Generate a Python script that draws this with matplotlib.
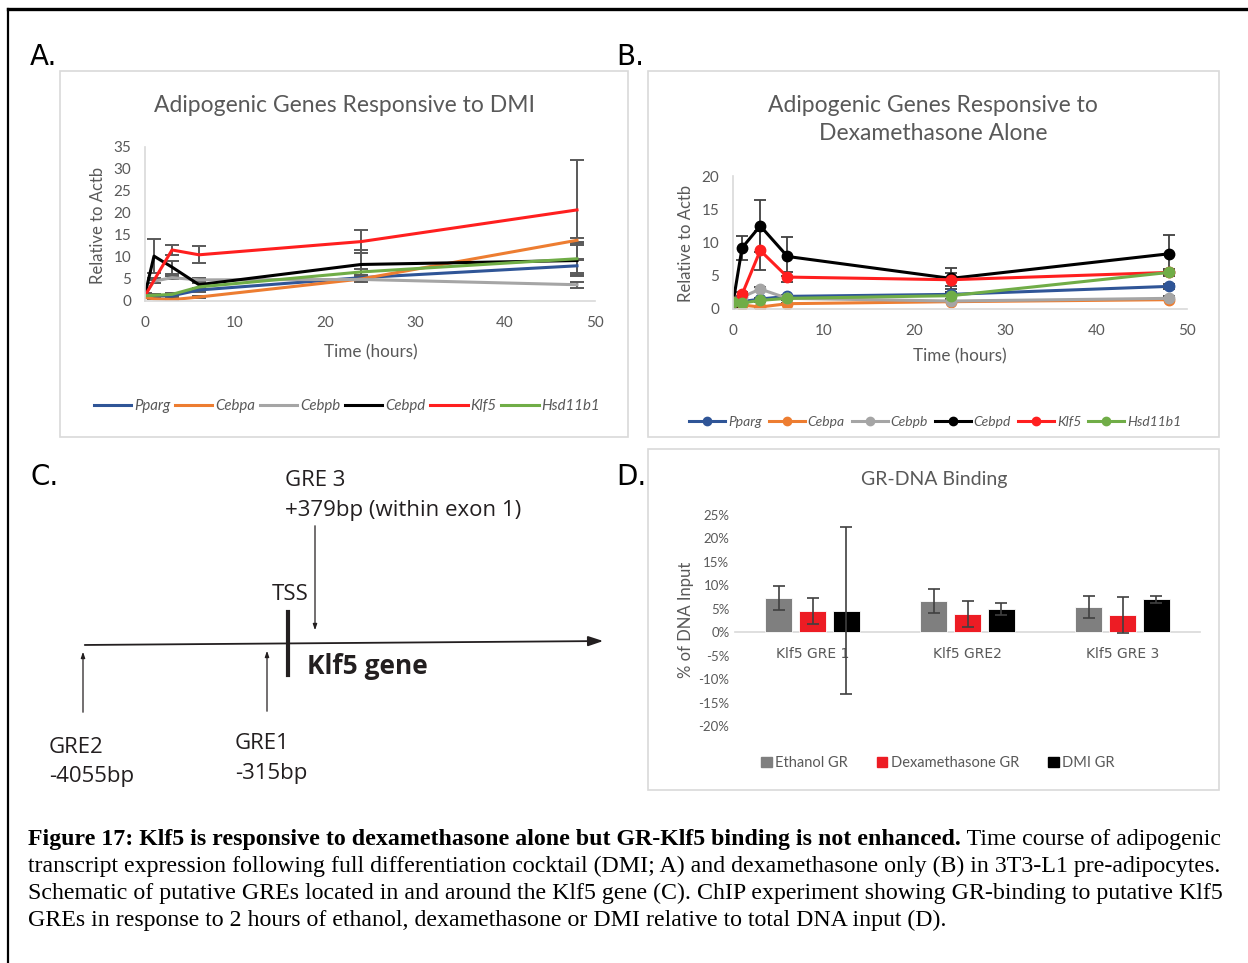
import matplotlib
matplotlib.use("Agg")
import matplotlib.pyplot as plt
from matplotlib.lines import Line2D
from matplotlib.patches import Rectangle, Patch
from matplotlib.ticker import PercentFormatter

plt.rcParams["axes.unicode_minus"] = False

# ---- data ----
times = [0, 1, 3, 6, 24, 48]
genes = ["Pparg", "Cebpa", "Cebpb", "Cebpd", "Klf5", "Hsd11b1"]
gene_colors = ["#2f5597", "#ed7d31", "#a5a5a5", "#000000", "#ff1f1f", "#70ad47"]

# A: full DMI cocktail
dmi_pparg = [1.0, 1.1, 1.2, 2.5, 5.3, 8.0]
dmi_cebpa = [0.8, 0.5, 0.3, 0.9, 5.0, 13.8]
dmi_cebpb = [1.5, 4.5, 5.3, 4.8, 4.9, 3.7]
dmi_cebpd = [1.5, 10.2, 7.7, 3.7, 8.3, 9.2]
dmi_klf5 = [1.2, 4.7, 11.6, 10.5, 13.5, 20.7]
dmi_hsd11b1 = [1.2, 1.3, 1.5, 3.2, 6.6, 9.6]
dmi_pparg_err = [0.2, 0.2, 0.3, 0.5, 0.6, 1.6]
dmi_cebpa_err = [0.1, 0.1, 0.1, 0.3, 0.6, 0.6]
dmi_cebpb_err = [0.1, 0.3, 0.4, 0.4, 0.4, 0.7]
dmi_cebpd_err = [0.3, 3.8, 1.5, 1.0, 3.2, 3.5]
dmi_klf5_err = [0.2, 0.5, 1.2, 1.9, 2.7, 11.3]
dmi_hsd11b1_err = [0.2, 0.2, 0.3, 0.8, 0.7, 3.7]

# B: dexamethasone alone
dex_pparg = [1.0, 1.1, 1.5, 1.9, 2.2, 3.4]
dex_cebpa = [1.0, 0.6, 0.3, 0.8, 1.1, 1.4]
dex_cebpb = [1.0, 1.8, 3.0, 1.6, 1.2, 1.6]
dex_cebpd = [0.9, 9.2, 12.5, 7.9, 4.6, 8.3]
dex_klf5 = [1.0, 2.2, 8.8, 4.8, 4.4, 5.5]
dex_hsd11b1 = [1.0, 0.9, 1.3, 1.6, 2.0, 5.5]
dex_pparg_err = [0.1, 0.1, 0.2, 0.2, 0.3, 0.4]
dex_cebpa_err = [0.1, 0.1, 0.1, 0.1, 0.1, 0.1]
dex_cebpb_err = [0.1, 0.2, 0.3, 0.2, 0.2, 0.3]
dex_cebpd_err = [0.2, 1.8, 3.9, 2.9, 1.6, 2.8]
dex_klf5_err = [0.1, 0.4, 3.0, 0.8, 1.0, 0.4]
dex_hsd11b1_err = [0.1, 0.1, 0.2, 0.2, 0.5, 0.5]

# D: ChIP, % of input
sites = ["Klf5 GRE 1", "Klf5 GRE2", "Klf5 GRE 3"]
treatments = ["Ethanol GR", "Dexamethasone GR", "DMI GR"]
treat_colors = ["#7f7f7f", "#ed1c24", "#000000"]
ethanol_gr = [7.3, 6.7, 5.4]
ethanol_gr_err = [2.5, 2.5, 2.3]
dex_gr = [4.6, 3.9, 3.7]
dex_gr_err = [2.8, 2.7, 3.9]
dmi_gr = [4.6, 4.9, 7.0]
dmi_gr_err = [17.8, 1.3, 0.8]

caption_bold = "Figure 17: Klf5 is responsive to dexamethasone alone but GR-Klf5 binding is not enhanced."
caption_lines = [
    " Time course of adipogenic",
    "transcript expression following full differentiation cocktail (DMI; A) and dexamethasone only (B) in 3T3-L1 pre-adipocytes.",
    "Schematic of putative GREs located in and around the Klf5 gene (C). ChIP experiment showing GR-binding to putative Klf5",
    "GREs in response to 2 hours of ethanol, dexamethasone or DMI relative to total DNA input (D).",
]

# ---- figure ----
W, H = 1248, 963
fig = plt.figure(figsize=(W / 100, H / 100), dpi=100)
TXT = "#595959"
CF = "Lato"
SF = ["Open Sans", "DejaVu Sans"]


def fx(x):
    return x / W


def fy(y):
    return 1 - y / H


def add_ax(x0, y0, x1, y1):
    return fig.add_axes([fx(x0), fy(y1), (x1 - x0) / W, (y1 - y0) / H])


def box(x0, y0, x1, y1):
    fig.add_artist(Rectangle((fx(x0), fy(y1)), (x1 - x0) / W, (y1 - y0) / H,
                             transform=fig.transFigure, fill=False,
                             ec="#d9d9d9", lw=1.2))


def style(ax, size=11):
    for s in ["top", "right"]:
        ax.spines[s].set_visible(False)
    for s in ["left", "bottom"]:
        ax.spines[s].set_color("#d9d9d9")
        ax.spines[s].set_linewidth(1.2)
    ax.tick_params(length=0, labelcolor=TXT, labelsize=size)
    for lab in ax.get_xticklabels() + ax.get_yticklabels():
        lab.set_family(CF)


# outer frame
fig.add_artist(Line2D([fx(8), 1], [fy(9), fy(9)], color="black", lw=2.4))
fig.add_artist(Line2D([fx(8), fx(8)], [0, fy(9)], color="black", lw=1.6))

box(60, 71, 628, 437)
box(648, 71, 1219, 437)
box(648, 449, 1219, 790)

for lab, x, y in [("A.", 30, 57), ("B.", 616, 57), ("C.", 30, 477), ("D.", 616, 477)]:
    fig.text(fx(x), fy(y), lab, fontsize=20, va="center", ha="left",
             family=["Liberation Sans Narrow", "DejaVu Sans"])

# ---- panel A ----
axA = add_ax(145, 147, 595, 301)
dmi_vals = [dmi_pparg, dmi_cebpa, dmi_cebpb, dmi_cebpd, dmi_klf5, dmi_hsd11b1]
dmi_errs = [dmi_pparg_err, dmi_cebpa_err, dmi_cebpb_err, dmi_cebpd_err, dmi_klf5_err, dmi_hsd11b1_err]
handlesA = []
for name, ys, es, col in zip(genes, dmi_vals, dmi_errs, gene_colors):
    axA.errorbar(times, ys, yerr=es, color=col, lw=2.2, ecolor="#595959",
                 elinewidth=1.4, capsize=5, capthick=1.4)
    handlesA.append(Line2D([], [], color=col, lw=2.2))
axA.set_xlim(0, 50)
axA.set_ylim(0, 35)
axA.set_xticks(range(0, 51, 10))
axA.set_yticks(range(0, 36, 5))
style(axA)
axA.tick_params(axis="x", pad=11)
axA.tick_params(axis="y", pad=10)
fig.text(fx(344), fy(105), "Adipogenic Genes Responsive to DMI", fontsize=16.5,
         color=TXT, family=CF, ha="center", va="center")
fig.text(fx(98), fy(225), "Relative to Actb", fontsize=12, color=TXT, family=CF,
         rotation=90, ha="center", va="center")
fig.text(fx(371), fy(352), "Time (hours)", fontsize=12.3, color=TXT, family=CF,
         ha="center", va="center")
fig.legend(handlesA, genes, loc="center", bbox_to_anchor=(fx(347), fy(406)),
           ncol=6, frameon=False, handlelength=2.5, handletextpad=0.2,
           columnspacing=0.3, labelcolor=TXT,
           prop={"family": CF, "style": "italic", "size": 10.8})

# ---- panel B ----
axB = add_ax(733, 176, 1187, 309)
dex_vals = [dex_pparg, dex_cebpa, dex_cebpb, dex_cebpd, dex_klf5, dex_hsd11b1]
dex_errs = [dex_pparg_err, dex_cebpa_err, dex_cebpb_err, dex_cebpd_err, dex_klf5_err, dex_hsd11b1_err]
handlesB = []
for name, ys, es, col in zip(genes, dex_vals, dex_errs, gene_colors):
    axB.errorbar(times, ys, yerr=es, color=col, lw=2.2, ecolor="#404040",
                 elinewidth=1.3, capsize=4.5, capthick=1.3,
                 marker="o", ms=7.5, mec=col, mfc=col)
    handlesB.append(Line2D([], [], color=col, lw=2.2, marker="o", ms=6))
axB.set_xlim(0, 50)
axB.set_ylim(0, 20)
axB.set_xticks(range(0, 51, 10))
axB.set_yticks(range(0, 21, 5))
style(axB)
axB.tick_params(axis="x", pad=11)
axB.tick_params(axis="y", pad=10)
fig.text(fx(933), fy(105), "Adipogenic Genes Responsive to", fontsize=16.5,
         color=TXT, family=CF, ha="center", va="center")
fig.text(fx(933), fy(134), "Dexamethasone Alone", fontsize=16.5,
         color=TXT, family=CF, ha="center", va="center")
fig.text(fx(686), fy(243), "Relative to Actb", fontsize=12, color=TXT, family=CF,
         rotation=90, ha="center", va="center")
fig.text(fx(960), fy(356), "Time (hours)", fontsize=12.3, color=TXT, family=CF,
         ha="center", va="center")
fig.legend(handlesB, genes, loc="center", bbox_to_anchor=(fx(935), fy(422)),
           ncol=6, frameon=False, handlelength=2.6, handletextpad=0.2,
           columnspacing=0.5, labelcolor=TXT, numpoints=1,
           prop={"family": CF, "style": "italic", "size": 10})

# ---- panel C (schematic) ----
axC = add_ax(20, 450, 640, 800)
axC.set_xlim(20, 640)
axC.set_ylim(800, 450)
axC.axis("off")
axC.annotate("", xy=(606, 641), xytext=(82, 645),
             arrowprops=dict(arrowstyle="-|>,head_length=0.9,head_width=0.3",
                             color="#231f20", lw=1.3))
axC.plot([288, 288], [612, 675], color="#231f20", lw=3)
for x, y0, y1 in [(315, 523, 633), (83, 715, 649), (267, 714, 648)]:
    axC.annotate("", xy=(x, y1), xytext=(x, y0),
                 arrowprops=dict(arrowstyle="-|>,head_length=0.35,head_width=0.12",
                                 color="#231f20", lw=0.9))
cfont = dict(fontsize=16, family=SF, color="#231f20", va="center", ha="left")
axC.text(285, 480, "GRE 3", **cfont)
axC.text(285, 510, "+379bp (within exon 1)", **cfont)
axC.text(290, 594, "TSS", **dict(cfont, ha="center"))
axC.text(307, 666, "Klf5 gene", fontsize=19, family=SF, color="#231f20",
         va="center", ha="left", weight="bold")
axC.text(49, 747, "GRE2", **cfont)
axC.text(49, 776, "-4055bp", **cfont)
axC.text(235, 743, "GRE1", **cfont)
axC.text(235, 773, "-315bp", **cfont)

# ---- panel D ----
axD = add_ax(735, 515, 1200, 726)
bar_w = 0.174
step = 0.219
groups = [ethanol_gr, dex_gr, dmi_gr]
group_errs = [ethanol_gr_err, dex_gr_err, dmi_gr_err]
for k, (vals, errs, col) in enumerate(zip(groups, group_errs, treat_colors)):
    xs = [i + (k - 1) * step for i in range(len(sites))]
    axD.bar(xs, vals, width=bar_w, color=col, edgecolor="white", lw=0.6,
            yerr=errs, error_kw=dict(ecolor="#404040", elinewidth=1.2,
                                     capsize=4.3, capthick=1.2), zorder=2)
axD.set_xlim(-0.5, 2.5)
axD.set_ylim(-20, 25)
axD.set_yticks(range(-20, 26, 5))
axD.yaxis.set_major_formatter(PercentFormatter(decimals=0))
axD.set_xticks(range(len(sites)))
axD.set_xticklabels(sites)
style(axD)
axD.spines["left"].set_visible(False)
axD.spines["bottom"].set_position(("data", 0))
axD.spines["bottom"].set_zorder(1)
axD.tick_params(axis="y", labelsize=9.5, pad=4)
axD.tick_params(axis="x", labelsize=10, pad=11)
fig.text(fx(934), fy(479), "GR-DNA Binding", fontsize=14, color=TXT, family=CF,
         ha="center", va="center")
fig.text(fx(686), fy(620), "% of DNA Input", fontsize=12, color=TXT, family=CF,
         rotation=90, ha="center", va="center")
handlesD = [Patch(color=c) for c in treat_colors]
fig.legend(handlesD, treatments, loc="center", bbox_to_anchor=(fx(938), fy(763)),
           ncol=3, frameon=False, handlelength=0.7, handleheight=0.7,
           handletextpad=0.25, columnspacing=2.0, labelcolor=TXT,
           prop={"family": CF, "size": 10.5})

# ---- caption ----
capfont = dict(fontsize=17.2, family="Liberation Serif", color="black", ha="left")
tb = fig.text(fx(28), fy(845), caption_bold, weight="bold", va="baseline", **capfont)
fig.add_artist(plt.Annotation(caption_lines[0], xy=(1, 0), xycoords=tb,
                              va="bottom", **capfont))
for i, line in enumerate(caption_lines[1:]):
    fig.text(fx(28), fy(872 + 27 * i), line, va="baseline", **capfont)

fig.savefig("out.png", dpi=100)
